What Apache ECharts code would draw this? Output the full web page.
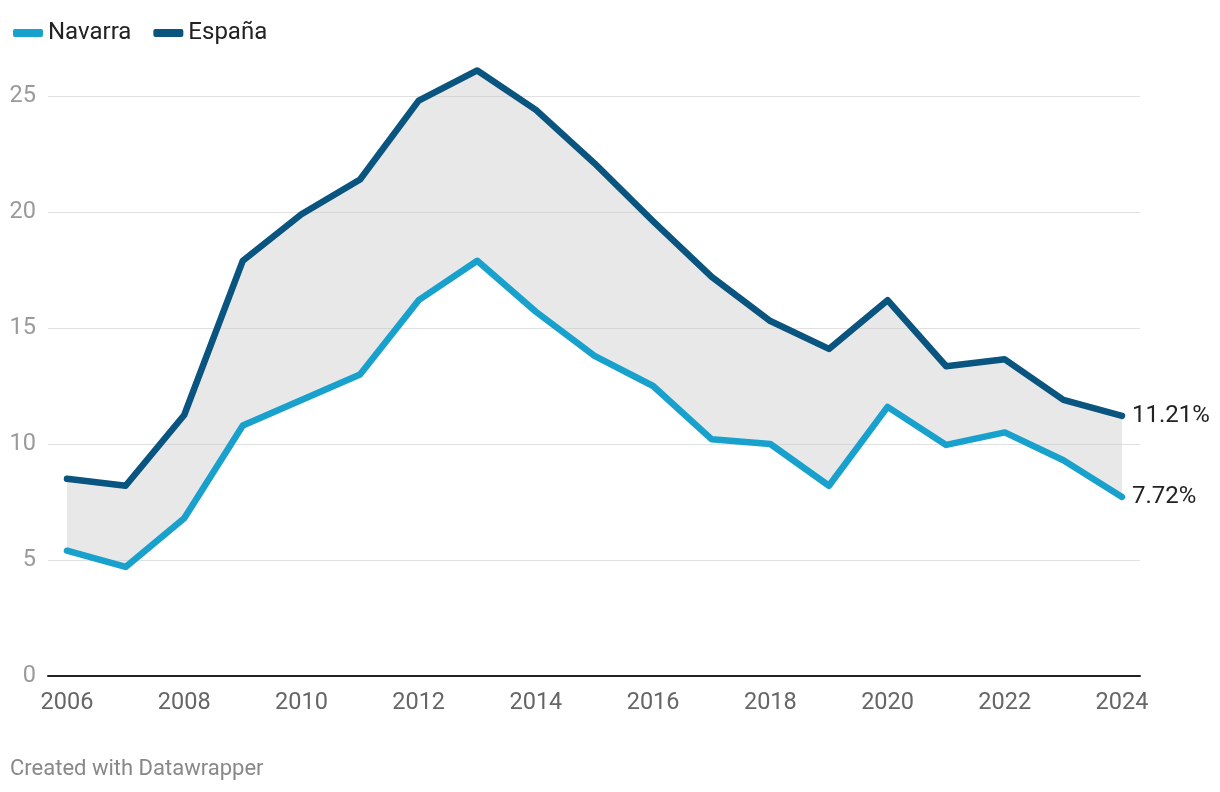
<!DOCTYPE html>
<html>
<head>
<meta charset="utf-8">
<script src="https://cdn.jsdelivr.net/npm/echarts@6/dist/echarts.min.js"></script>
<style>
html,body{margin:0;padding:0;background:#fff;}
#chart{width:1220px;height:792px;}
</style>
</head>
<body>
<div id="chart"></div>
<script>
const years = [2006,2007,2008,2009,2010,2011,2012,2013,2014,2015,2016,2017,2018,2019,2020,2021,2022,2023,2024];
const navarra = [5.4,4.7,6.8,10.8,11.9,13.0,16.2,17.9,15.7,13.8,12.5,10.2,10.0,8.2,11.6,9.96,10.5,9.3,7.72];
const espana = [8.5,8.2,11.25,17.9,19.9,21.4,24.8,26.1,24.4,22.1,19.6,17.2,15.3,14.1,16.2,13.35,13.65,11.9,11.21];
const xTicks = [2006,2008,2010,2012,2014,2016,2018,2020,2022,2024];

const cNav = '#18a1cd';
const cEsp = '#09557f';
const font = 'Roboto';

const chart = echarts.init(document.getElementById('chart'), null, {renderer:'canvas'});
const pairs = a => years.map((y,i)=>[y,a[i]]);

chart.setOption({
  animation:false,
  textStyle:{fontFamily:font},
  grid:{left:48,right:80,top:96,bottom:116,containLabel:false},
  legend:{
    left:8, top:16,
    data:['Navarra','España'],
    icon:'roundRect',
    itemWidth:30, itemHeight:8, itemGap:22,
    textStyle:{fontFamily:font,fontSize:24,color:'#222',padding:[0,0,0,0]}
  },
  xAxis:{
    type:'value', min:2005.676, max:2024.307,
    axisLine:{show:true,onZero:true,lineStyle:{color:'#222',width:2}},
    axisTick:{show:false},
    splitLine:{show:false},
    axisLabel:{customValues:xTicks,color:'#666',fontSize:23.5,fontFamily:font,margin:15,formatter:v=>String(v)}
  },
  yAxis:{
    type:'value', min:0, max:25, interval:5,
    axisLine:{show:false}, axisTick:{show:false},
    splitLine:{lineStyle:{color:'#e0e0e0',width:1}},
    axisLabel:{color:'#9a9a9a',fontSize:23.5,fontFamily:font,margin:12}
  },
  series:[
    {name:'band',type:'custom',silent:true,clip:false,z:1,
      data:[0],
      renderItem:function(params,api){
        const pts=[];
        years.forEach((y,i)=>pts.push(api.coord([y,espana[i]])));
        for(let i=years.length-1;i>=0;i--) pts.push(api.coord([years[i],navarra[i]]));
        return {type:'polygon',shape:{points:pts},style:{fill:'rgba(200,200,200,0.42)'}};
      }
    },
    {name:'Navarra',type:'line',data:pairs(navarra),symbol:'none',clip:false,z:3,
      itemStyle:{color:cNav},
      lineStyle:{color:cNav,width:6.5,cap:'round',join:'round'},
      endLabel:{show:true,formatter:p=>p.value[1].toFixed(2)+'%',color:'#222',fontSize:24,fontFamily:font,distance:10}
    },
    {name:'España',type:'line',data:pairs(espana),symbol:'none',clip:false,z:4,
      itemStyle:{color:cEsp},
      lineStyle:{color:cEsp,width:6.5,cap:'round',join:'round'},
      endLabel:{show:true,formatter:p=>p.value[1].toFixed(2)+'%',color:'#222',fontSize:24,fontFamily:font,distance:10}
    }
  ],
  graphic:[
    {type:'text',left:10,top:758,style:{text:'Created with Datawrapper',fill:'#888',font:'22px Roboto'}}
  ]
});
</script>
</body>
</html>
